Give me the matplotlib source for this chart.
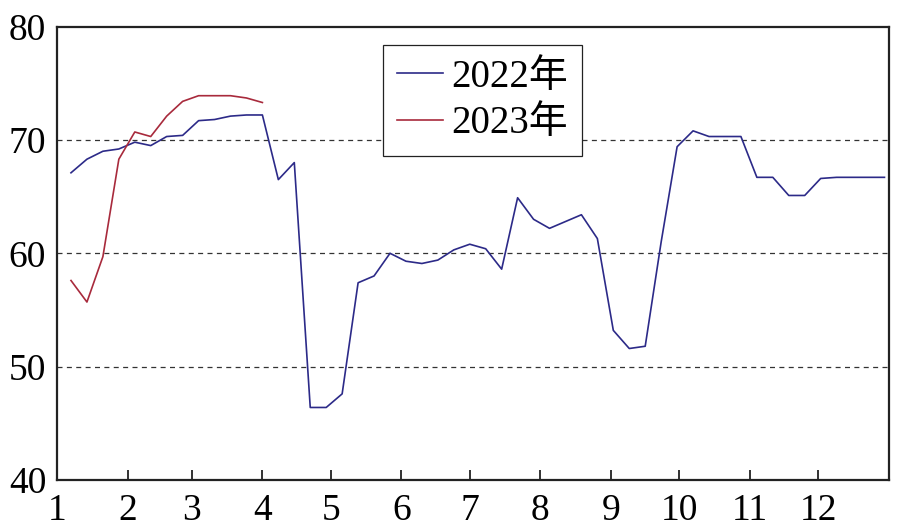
import numpy as np
import pandas as pd
from matplotlib import pyplot as plt

# dados semanais (sexta-feira de cada semana)
datas_2022 = pd.date_range('2022-01-07', periods=52, freq='7D')
valores_2022 = [67.1, 68.3, 69.0, 69.2, 69.8, 69.5, 70.3, 70.4, 71.7, 71.8, 72.1, 72.2, 72.2,
                66.5, 68.0, 46.4, 46.4, 47.6, 57.4, 58.0, 60.0, 59.3, 59.1, 59.4, 60.3, 60.8,
                60.4, 58.6, 64.9, 63.0, 62.2, 62.8, 63.4, 61.3, 53.2, 51.6, 51.8, 61.0, 69.4,
                70.8, 70.3, 70.3, 70.3, 66.7, 66.7, 65.1, 65.1, 66.6, 66.7, 66.7, 66.7, 66.7]
datas_2023 = pd.date_range('2023-01-07', periods=13, freq='7D')
valores_2023 = [57.6, 55.7, 59.7, 68.3, 70.7, 70.3, 72.1, 73.4, 73.9, 73.9, 73.9, 73.7, 73.3]

rotulos_mes = ['1', '2', '3', '4', '5', '6', '7', '8', '9', '10', '11', '12']
inicio_mes = pd.date_range('2022-01-01', periods=12, freq='MS').dayofyear - 1
rotulos_y = [40, 50, 60, 70, 80]

plt.rcParams['font.family'] = ['Liberation Serif', 'Noto Sans CJK SC']
plt.rcParams['font.size'] = 27

fig = plt.figure(figsize=(9.17, 5.31), dpi=100)
ax = fig.add_axes([0.0625, 0.096, 0.907, 0.854])

x22 = datas_2022.dayofyear - 1
x23 = datas_2023.dayofyear - 1
ax.plot(x22, valores_2022, color='#2c2a88', lw=1.2, label='2022年')
ax.plot(x23, valores_2023, color='#a82a3c', lw=1.2, label='2023年')

for v in [50, 60, 70]:
    ax.axhline(v, color='#333333', lw=0.9, ls=(0, (4, 3.5)), zorder=0)

ax.set_xlim(0, 365)
ax.set_ylim(40, 80)
ax.set_xticks(inicio_mes)
ax.set_xticklabels(rotulos_mes)
ax.set_yticks(rotulos_y)
ax.tick_params(axis='x', direction='in', length=7, width=1.3, color='#222222', pad=10)
ax.tick_params(axis='y', length=0, pad=8)
for s in ax.spines.values():
    s.set_linewidth(1.6)
    s.set_color('#222222')

leg = ax.legend(loc='upper left', bbox_to_anchor=(0.391, 0.96), borderaxespad=0,
                handlelength=1.2, handletextpad=0.2, labelspacing=0.25, borderpad=0.36,
                fancybox=False, edgecolor='#222222', framealpha=1, fontsize=28)
leg.get_frame().set_linewidth(0.9)

fig.savefig('out.png', dpi=100)
